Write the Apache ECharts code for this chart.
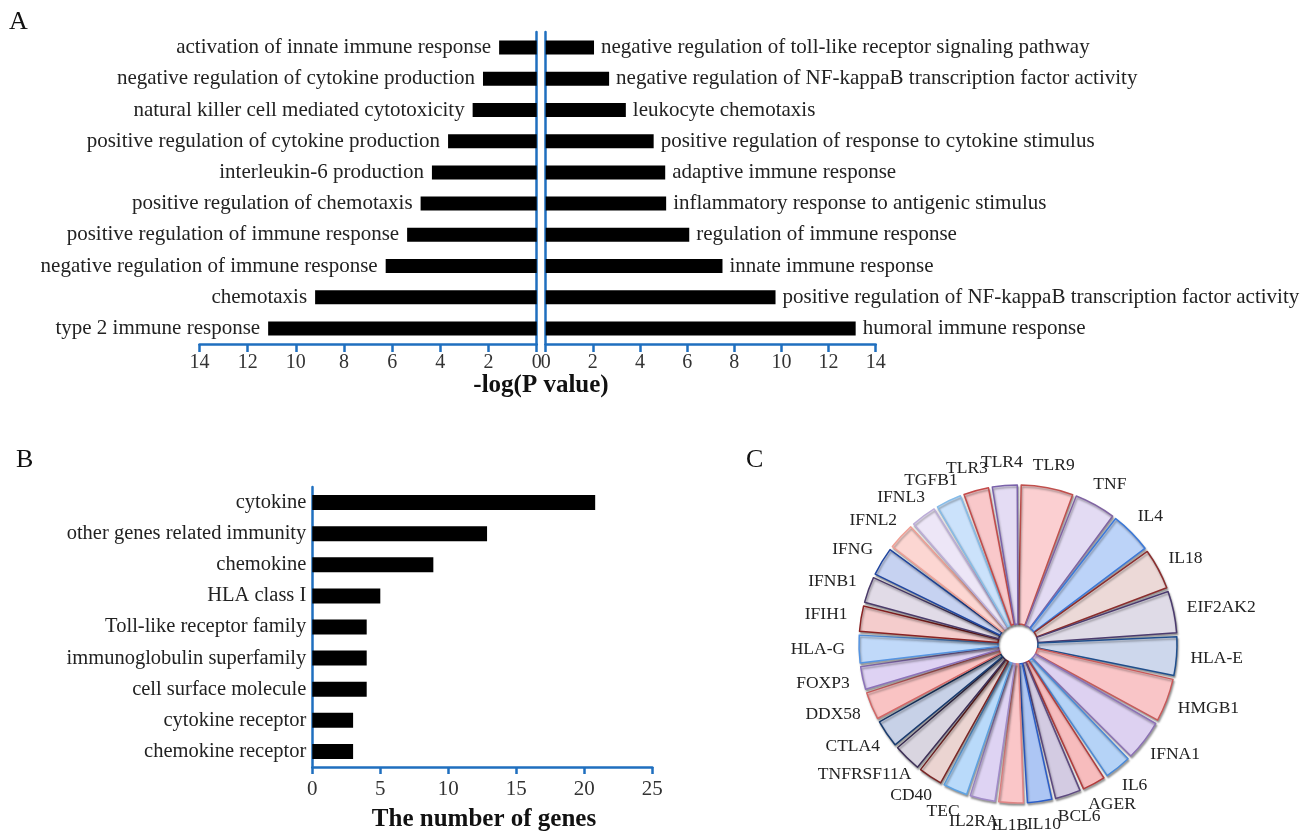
<!DOCTYPE html>
<html>
<head>
<meta charset="utf-8">
<script src="https://cdn.jsdelivr.net/npm/echarts@6/dist/echarts.min.js"></script>
<style>
  html, body { margin: 0; padding: 0; background: #fff; }
  #main { width: 1316px; height: 837px; }
</style>
</head>
<body>
<div id="main"></div>
<script>
// ---------- Panel A data ----------
const leftTerms = [
  'activation of innate immune response',
  'negative regulation of cytokine production',
  'natural killer cell mediated cytotoxicity',
  'positive regulation of cytokine production',
  'interleukin-6 production',
  'positive regulation of chemotaxis',
  'positive regulation of immune response',
  'negative regulation of immune response',
  'chemotaxis',
  'type 2 immune response'
];
const leftVals = [1.56, 2.23, 2.66, 3.68, 4.35, 4.82, 5.38, 6.27, 9.2, 11.15];

const rightTerms = [
  'negative regulation of toll-like receptor signaling pathway',
  'negative regulation of NF-kappaB transcription factor activity',
  'leukocyte chemotaxis',
  'positive regulation of response to cytokine stimulus',
  'adaptive immune response',
  'inflammatory response to antigenic stimulus',
  'regulation of immune response',
  'innate immune response',
  'positive regulation of NF-kappaB transcription factor activity',
  'humoral immune response'
];
const rightVals = [2.05, 2.69, 3.4, 4.58, 5.07, 5.11, 6.09, 7.5, 9.75, 13.15];

// ---------- Panel B data ----------
const geneClasses = [
  'cytokine', 'other genes related immunity', 'chemokine', 'HLA class I',
  'Toll-like receptor family', 'immunoglobulin superfamily',
  'cell surface molecule', 'cytokine receptor', 'chemokine receptor'
];
const geneCounts = [20.8, 12.85, 8.9, 5, 4, 4, 4, 3, 3];

// ---------- Panel C data ----------
const genes = ['TLR9','TNF','IL4','IL18','EIF2AK2','HLA-E','HMGB1','IFNA1','IL6','AGER',
  'BCL6','IL10','IL1B','IL2RA','TEC','CD40','TNFRSF11A','CTLA4','DDX58','FOXP3',
  'HLA-G','IFIH1','IFNB1','IFNG','IFNL2','IFNL3','TGFB1','TLR3','TLR4'];
const geneShares = [20.35,16.4,16.5,16.3,16.65,15.5,17.15,16.2,11.1,9.75,
  10.65,10.3,10.35,10.5,10.25,10.1,11.45,11.4,11.45,9.65,
  11.45,10.65,10.8,11.75,11.15,10.6,10.6,10.55,10.45];

// styles (not data)
const sliceFill = ['#fbcfd1','#e3dbf3','#bcd3f8','#ecd9d7','#dfdbe7','#cdd7ec','#f9c5c7','#ddd1f1','#b5d3f7','#f7bcbd',
  '#d3cbe2','#adc6f4','#fac6c8','#ded3f3','#b9dafa','#ebd4d1','#d9d5e0','#c7d1e7','#f9c3c3','#ded2f3',
  '#c0d9f9','#f4cccc','#e1dbe7','#c6d2f1','#fcd6d2','#ede6f7','#cbe2fb','#f9c8ca','#e4dcf4'];
const sliceLine = ['#c0504d','#8064a2','#3b78d8','#8b2e2e','#4b3b6e','#1f4e8c','#c75a5a','#8c72b4','#4a8ad8','#b33c3c',
  '#5e4a80','#2b5dc9','#e08484','#a08ac8','#5ea2e2','#7a2626','#3e3058','#1a3c70','#d46666','#8c72ba',
  '#5594e2','#8a2222','#4b3b6a','#2046a0','#f0a096','#bcadd8','#86bce8','#c44a4a','#7a62aa'];

const FONT = "'Liberation Serif', 'Times New Roman', serif";
const BLUE = '#1f6fbf';
const PIE_C = [1018, 644];
const PIE_R = 159;
const START_OFF = 0.45;

const total = geneShares.reduce((a, b) => a + b, 0);
const midAngles = [];
let acc = START_OFF;
geneShares.forEach(v => { const a = v / total * 360; midAngles.push(acc + a / 2); acc += a; });

const chart = echarts.init(document.getElementById('main'));

const valueAxisBase = {
  type: 'value',
  axisLine: { show: true, lineStyle: { color: BLUE, width: 2.5 } },
  axisTick: { show: true, length: 8, lineStyle: { color: BLUE, width: 2.5 } },
  axisLabel: { fontFamily: FONT, fontSize: 20, color: '#333', margin: 9 },
  splitLine: { show: false }
};
const catAxisBase = {
  type: 'category', inverse: true,
  axisLine: { show: true, lineStyle: { color: BLUE, width: 2.5 } },
  axisTick: { show: false },
  axisLabel: { show: false }
};

chart.setOption({
  animation: false,
  backgroundColor: '#fff',
  grid: [
    { left: 199.5, top: 32, width: 337.2, height: 312 },
    { left: 545.7, top: 32, width: 330, height: 312 },
    { left: 312.3, top: 487, width: 340, height: 280 }
  ],
  xAxis: [
    Object.assign({}, valueAxisBase, { gridIndex: 0, inverse: true, min: 0, max: 14, interval: 2 }),
    Object.assign({}, valueAxisBase, { gridIndex: 1, min: 0, max: 14, interval: 2 }),
    Object.assign({}, valueAxisBase, { gridIndex: 2, min: 0, max: 25, interval: 5,
      axisTick: { show: true, length: 7, lineStyle: { color: BLUE, width: 2.5 } },
      axisLabel: { fontFamily: FONT, fontSize: 21, color: '#333', margin: 12 } })
  ],
  yAxis: [
    Object.assign({}, catAxisBase, { gridIndex: 0, data: leftTerms, position: 'right' }),
    Object.assign({}, catAxisBase, { gridIndex: 1, data: rightTerms, position: 'left' }),
    Object.assign({}, catAxisBase, { gridIndex: 2, data: geneClasses, position: 'left',
      axisLabel: { show: true, fontFamily: FONT, fontSize: 20.5, color: '#222', margin: 6 } })
  ],
  series: [
    { type: 'bar', xAxisIndex: 0, yAxisIndex: 0, data: leftVals, barWidth: 14,
      itemStyle: { color: '#000' },
      label: { show: true, position: 'left', distance: 8, formatter: '{b}',
        fontFamily: FONT, fontSize: 21, color: '#222' } },
    { type: 'bar', xAxisIndex: 1, yAxisIndex: 1, data: rightVals, barWidth: 14,
      itemStyle: { color: '#000' },
      label: { show: true, position: 'right', distance: 7, formatter: '{b}',
        fontFamily: FONT, fontSize: 21, color: '#222' } },
    { type: 'bar', xAxisIndex: 2, yAxisIndex: 2, data: geneCounts, barWidth: 15,
      itemStyle: { color: '#000' } },
    { type: 'pie', center: PIE_C, radius: [20, PIE_R], startAngle: 90 - START_OFF,
      clockwise: true, padAngle: 1.4, avoidLabelOverlap: false,
      data: genes.map((g, i) => ({ name: g, value: geneShares[i],
        itemStyle: { color: sliceFill[i], borderColor: sliceLine[i], borderWidth: 1.5 } })),
      itemStyle: { shadowColor: 'rgba(0,0,0,0.35)', shadowBlur: 2, shadowOffsetX: 1, shadowOffsetY: 2 },
      label: { show: true, position: 'outside', fontFamily: FONT, fontSize: 17.5, color: '#222' },
      labelLine: { show: false },
      emphasis: { disabled: true },
      labelLayout: function (p) {
        const th = midAngles[p.dataIndex] * Math.PI / 180;
        const w = p.labelRect.width, h = p.labelRect.height;
        const R = PIE_R + 14;
        return {
          x: PIE_C[0] + (R + w / 2) * Math.sin(th),
          y: PIE_C[1] - (R + h / 2) * Math.cos(th),
          align: 'center', verticalAlign: 'middle'
        };
      }
    }
  ],
  graphic: [
    { type: 'text', left: 9, top: 9, style: { text: 'A', font: '26px ' + FONT, fill: '#111' } },
    { type: 'text', left: 16, top: 447, style: { text: 'B', font: '26px ' + FONT, fill: '#111' } },
    { type: 'text', left: 746, top: 447, style: { text: 'C', font: '26px ' + FONT, fill: '#111' } },
    { type: 'text', x: 541, y: 386, style: { text: '-log(P value)', font: 'bold 25px ' + FONT, fill: '#111', align: 'center', verticalAlign: 'middle' } },
    { type: 'text', x: 484, y: 820, style: { text: 'The number of genes', font: 'bold 25px ' + FONT, fill: '#111', align: 'center', verticalAlign: 'middle' } }
  ]
});
</script>
</body>
</html>
